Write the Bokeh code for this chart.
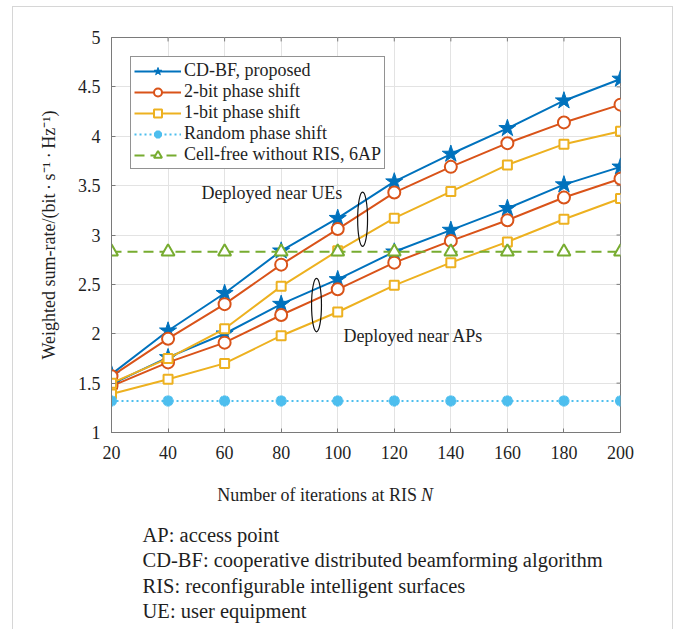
from bokeh.plotting import figure
from bokeh.layouts import column
from bokeh.models import (Range1d, FixedTicker, Legend, LegendItem, Label)
from bokeh.embed import file_html
from bokeh.resources import INLINE

# ---------------- data ----------------
N_values = [20, 40, 60, 80, 100, 120, 140, 160, 180, 200]
ue_cdbf = [1.59, 2.03, 2.41, 2.84, 3.17, 3.54, 3.82, 4.08, 4.36, 4.58]
ue_2bit = [1.57, 1.95, 2.30, 2.70, 3.06, 3.43, 3.69, 3.93, 4.14, 4.32]
ue_1bit = [1.50, 1.75, 2.05, 2.48, 2.84, 3.17, 3.44, 3.71, 3.92, 4.05]
ap_cdbf = [1.49, 1.76, 2.00, 2.30, 2.55, 2.83, 3.05, 3.27, 3.51, 3.69]
ap_2bit = [1.47, 1.71, 1.91, 2.19, 2.45, 2.72, 2.94, 3.15, 3.38, 3.57]
ap_1bit = [1.39, 1.54, 1.70, 1.98, 2.22, 2.49, 2.72, 2.93, 3.16, 3.37]
random_phase = [1.32] * 10
cell_free = [2.83] * 10

x_ticks = [20, 40, 60, 80, 100, 120, 140, 160, 180, 200]
x_tick_labels = ["20", "40", "60", "80", "100", "120", "140", "160", "180", "200"]
y_ticks = [1, 1.5, 2, 2.5, 3, 3.5, 4, 4.5, 5]
y_tick_labels = ["1", "1.5", "2", "2.5", "3", "3.5", "4", "4.5", "5"]

legend_labels = ["CD-BF, proposed", "2-bit phase shift", "1-bit phase shift",
                 "Random phase shift", "Cell-free without RIS, 6AP"]
footer_lines = ["AP: access point",
                "CD-BF: cooperative distributed beamforming algorithm",
                "RIS: reconfigurable intelligent surfaces",
                "UE: user equipment"]

FONT = "Liberation Serif"
FS = "18px"
TXT = "#1f1f1f"
AXC = "#7a7a7a"

BLUE = "#0072BD"
ORANGE = "#D95319"
YELLOW = "#EDB120"
CYAN = "#4DBEEE"
GREEN = "#77AC30"

p = figure(width=659, height=467, output_backend="svg", toolbar_location=None,
           x_range=Range1d(20, 200), y_range=Range1d(1, 5),
           min_border_left=98, min_border_right=52, min_border_top=30, min_border_bottom=42,
           background_fill_color="white", border_fill_color="white")

p.outline_line_color = AXC
p.outline_line_width = 1

for ax in (p.xaxis[0], p.yaxis[0]):
    ax.major_label_text_font = FONT
    ax.major_label_text_font_size = FS
    ax.major_label_text_color = TXT
    ax.axis_line_color = AXC
    ax.major_tick_line_color = AXC
    ax.major_tick_in = 4
    ax.major_tick_out = 0
    ax.minor_tick_line_color = None

p.xaxis.major_label_standoff = 13
p.yaxis.major_label_standoff = 11

p.xaxis.ticker = FixedTicker(ticks=x_ticks)
p.yaxis.ticker = FixedTicker(ticks=y_ticks)
p.xaxis.major_label_overrides = {t: l for t, l in zip(x_ticks, x_tick_labels)}
p.yaxis.major_label_overrides = {t: l for t, l in zip(y_ticks, y_tick_labels)}

p.yaxis.axis_label = "Weighted sum-rate/(bit\u2009\u00b7\u2009s\u207b\u00b9\u2009\u00b7\u2009Hz\u207b\u00b9)"
p.yaxis.axis_label_text_font = FONT
p.yaxis.axis_label_text_font_size = FS
p.yaxis.axis_label_text_font_style = "normal"
p.yaxis.axis_label_text_color = TXT
p.yaxis.axis_label_standoff = 16

p.xgrid.ticker = FixedTicker(ticks=x_ticks)
p.ygrid.ticker = FixedTicker(ticks=y_ticks)
p.grid.grid_line_color = "#e3e3e3"
p.grid.grid_line_width = 1

# inward tick marks on the top and right edges of the box
p.segment(x0=x_ticks, y0=[5] * len(x_ticks), x1=x_ticks, y1=[5 - 0.04] * len(x_ticks),
          line_color=AXC, line_width=1)
p.segment(x0=[200] * len(y_ticks), y0=y_ticks, x1=[200 - 1.4] * len(y_ticks), y1=y_ticks,
          line_color=AXC, line_width=1)

LW = 2

def series(y, color, marker, size, fill=None, dash="solid"):
    lr = p.line(N_values, y, line_color=color, line_width=LW, line_dash=dash)
    if marker == "star":
        mr = p.scatter(N_values, y, marker="star", size=size, fill_color=color,
                       line_color=color, line_width=1)
    elif marker == "asterisk":
        mr = p.scatter(N_values, y, marker="asterisk", size=size, line_color=color,
                       line_width=3.5)
    else:
        mr = p.scatter(N_values, y, marker=marker, size=size, fill_color=fill,
                       line_color=color, line_width=2)
    return [lr, mr]

r_ue_cdbf = series(ue_cdbf, BLUE, "star", 18)
r_ap_cdbf = series(ap_cdbf, BLUE, "star", 18)
r_ue_2bit = series(ue_2bit, ORANGE, "circle", 12, "white")
r_ap_2bit = series(ap_2bit, ORANGE, "circle", 12, "white")
r_ue_1bit = series(ue_1bit, YELLOW, "square", 9, "white")
r_ap_1bit = series(ap_1bit, YELLOW, "square", 9, "white")
r_rand = series(random_phase, CYAN, "asterisk", 11, dash="2 3")
r_cf = series(cell_free, GREEN, "triangle", 13, "white", dash="10 6")

# ellipses grouping the curves
p.ellipse(x=[108.8], y=[3.16], width=3.5, height=0.55, fill_color=None,
          line_color="#111111", line_width=1.2)
p.ellipse(x=[92.5], y=[2.29], width=3.5, height=0.54, fill_color=None,
          line_color="#111111", line_width=1.2)

p.add_layout(Label(x=51.8, y=3.43, text="Deployed near UEs", text_font=FONT,
                   text_font_size=FS, text_color=TXT, text_baseline="middle"))
p.add_layout(Label(x=102, y=1.975, text="Deployed near APs", text_font=FONT,
                   text_font_size=FS, text_color=TXT, text_baseline="middle"))

items = [LegendItem(label=legend_labels[0], renderers=r_ue_cdbf),
         LegendItem(label=legend_labels[1], renderers=r_ue_2bit),
         LegendItem(label=legend_labels[2], renderers=r_ue_1bit),
         LegendItem(label=legend_labels[3], renderers=r_rand),
         LegendItem(label=legend_labels[4], renderers=r_cf)]
legend = Legend(items=items, location="top_left", margin=19,
                label_text_font=FONT, label_text_font_size=FS, label_text_color=TXT,
                glyph_width=47, glyph_height=20, label_height=20, spacing=0,
                padding=3, label_standoff=3,
                border_line_color="#262626", border_line_width=1,
                background_fill_color="white", background_fill_alpha=1)
p.add_layout(legend)

# ---------------- lower panel: x label and footnotes ----------------
# this panel's frame is aligned with the frame above (page x 112..620)
H2 = 155
p2 = figure(width=659, height=H2, output_backend="svg", toolbar_location=None,
            x_range=Range1d(112, 620), y_range=Range1d(H2, 0),
            x_axis_type=None, y_axis_type=None, min_border=0,
            background_fill_color="white", border_fill_color="white")
p2.outline_line_color = None
p2.grid.visible = False

p2.add_layout(Label(x=417, y=20, text="Number of iterations at RIS", text_font=FONT,
                    text_font_size=FS, text_color=TXT, text_baseline="middle",
                    text_align="right"))
p2.add_layout(Label(x=421, y=20, text="N", text_font=FONT, text_font_style="italic",
                    text_font_size=FS, text_color=TXT, text_baseline="middle"))

foot_y = [60, 85, 111, 136.7]
for txt, fy in zip(footer_lines, foot_y):
    p2.add_layout(Label(x=143, y=fy, text=txt, text_font=FONT, text_font_size="20.5px",
                        text_color=TXT, text_baseline="middle"))

layout = column(p, p2, spacing=0, margin=(6, 0, 0, 12),
                styles={"border-left": "1.5px solid #d6d6d6",
                        "border-right": "1.5px solid #d6d6d6",
                        "border-top": "1.5px solid #d6d6d6"})

open("out.html", "w").write(file_html(layout, INLINE))
